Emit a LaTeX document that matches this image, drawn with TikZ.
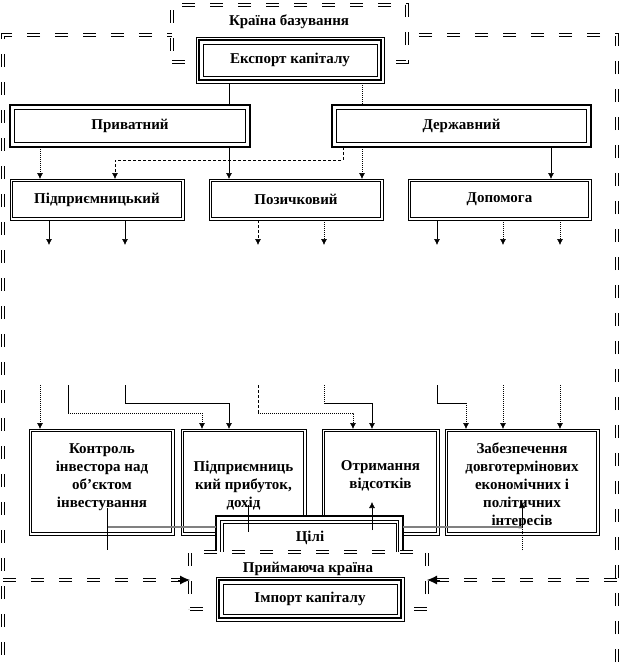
\documentclass[tikz,border=0pt]{standalone}
\usepackage{fontspec}
\setmainfont{Liberation Serif}
\usetikzlibrary{arrows.meta}
\begin{document}
\begin{tikzpicture}[x=1pt,y=-1pt,
  every node/.style={inner sep=0pt, outer sep=0pt},
  txt/.style={font=\fontsize{15}{18}\selectfont\bfseries, align=center},
  dframe/.style={draw, line width=1pt, double=white, double distance=1.8pt, dash pattern=on 13pt off 15pt},
  tripA/.style={rectangle, draw, fill=white, line width=0.7pt, txt,
    path picture={
      \draw[line width=2pt] ([shift={(3.2pt,-3.2pt)}]path picture bounding box.north west) rectangle ([shift={(-3.2pt,3.2pt)}]path picture bounding box.south east);
      \draw[line width=0.7pt] ([shift={(7pt,-7pt)}]path picture bounding box.north west) rectangle ([shift={(-7pt,7pt)}]path picture bounding box.south east);}},
  tripB/.style={rectangle, draw, fill=white, line width=2.6pt, txt,
    path picture={
      \draw[line width=0.7pt] ([shift={(4.5pt,-4.5pt)}]path picture bounding box.north west) rectangle ([shift={(-4.5pt,4.5pt)}]path picture bounding box.south east);
      \draw[line width=0.7pt] ([shift={(7pt,-7pt)}]path picture bounding box.north west) rectangle ([shift={(-7pt,7pt)}]path picture bounding box.south east);}},
  dblA/.style={rectangle, draw, fill=white, line width=2.6pt, txt,
    path picture={
      \draw[line width=0.7pt] ([shift={(4.5pt,-4.5pt)}]path picture bounding box.north west) rectangle ([shift={(-4.5pt,4.5pt)}]path picture bounding box.south east);}},
  dblB/.style={rectangle, draw, fill=white, line width=0.6pt, txt,
    path picture={
      \draw[line width=1.3pt] ([shift={(2.7pt,-2.7pt)}]path picture bounding box.north west) rectangle ([shift={(-2.7pt,2.7pt)}]path picture bounding box.south east);}},
  sl/.style={line width=0.6pt},
  dt/.style={line width=0.6pt, dash pattern=on 1pt off 1pt},
  ds/.style={line width=0.6pt, dash pattern=on 3pt off 2pt},
  gl/.style={line width=1.2pt, black!50},
  arr/.style={-{Latex[length=6pt,width=6pt]}},
  barr/.style={line width=0.8pt, -{Latex[length=10pt,width=9pt]}}
]
\useasboundingbox (0,0) rectangle (620,670);

% outer frame and home-country box
\node[dframe, minimum width=614pt, minimum height=685pt] (frame) at (310,377.5) {};
\node[dframe, fill=white, minimum width=235pt, minimum height=57pt] (krb) at (289.5,33.5) {};
\node[txt] (krbt) at (289,22) {Країна базування};

% boxes
\node[tripA, minimum width=188pt, minimum height=46pt] (exp) at (290,60) {Експорт капіталу};
\node[dblA, minimum width=240pt, minimum height=42pt] (priv) at (130,126) {Приватний};
\node[dblA, minimum width=259pt, minimum height=42pt] (derzh) at (461.5,126) {Державний};

\node[dblB, minimum width=174pt, minimum height=41pt] (pidpr) at (97,199.5) {Підприємницький};
\node[dblB, minimum width=174pt, minimum height=41pt] (pozych) at (296,199.5) {Позичковий};
\node[dblB, minimum width=183pt, minimum height=41pt] (dopom) at (499.5,199.5) {Допомога};

\node[dblB, minimum width=145pt, minimum height=106pt] (kontr) at (101.5,482) {};
\node[dblB, minimum width=125pt, minimum height=106pt] (prybut) at (243.5,482) {};
\node[dblB, minimum width=117pt, minimum height=106pt] (vidsot) at (380.5,482) {};
\node[dblB, minimum width=154pt, minimum height=106pt] (zabez) at (522,482) {};
\node[txt] (kontrt) at (102,477) {Контроль\\інвестора над\\об’єктом\\інвестування};
\node[txt] (prybutt) at (243.5,486) {Підприємниць\\кий прибуток,\\дохід};
\node[txt] (vidsott) at (380.5,476) {Отримання\\відсотків};
\node[txt] (zabezt) at (522,486) {Забезпечення\\довготермінових\\економічних і\\політичних\\інтересів};

% export -> private / state
\draw[sl] (exp.south -| 229,0) -- (priv.north -| 229,0);
\draw[dt] (exp.south -| 362,0) -- (derzh.north -| 362,0);

% private / state -> row 2
\draw[dt,arr] (priv.south -| 40,0) -- (pidpr.north -| 40,0);
\draw[sl,arr] (priv.south -| 229,0) -- (pozych.north -| 229,0);
\draw[ds,arr] (derzh.south -| 343,0) -- (343,160) -- (115,160) -- (pidpr.north -| 115,0);
\draw[dt,arr] (derzh.south -| 362,0) -- (pozych.north -| 362,0);
\draw[sl,arr] (derzh.south -| 551,0) -- (dopom.north -| 551,0);

% row 2 outgoing arrows
\coordinate (o1) at (49,245);
\coordinate (o2) at (125,245);
\coordinate (o3) at (258,245);
\coordinate (o4) at (324,245);
\coordinate (o5) at (437,245);
\coordinate (o6) at (503,245);
\coordinate (o7) at (560,245);
\draw[sl,arr] (pidpr.south -| o1) -- (o1);
\draw[sl,arr] (pidpr.south -| o2) -- (o2);
\draw[ds,arr] (pozych.south -| o3) -- (o3);
\draw[dt,arr] (pozych.south -| o4) -- (o4);
\draw[sl,arr] (dopom.south -| o5) -- (o5);
\draw[dt,arr] (dopom.south -| o6) -- (o6);
\draw[dt,arr] (dopom.south -| o7) -- (o7);

% incoming lines to goal boxes
\coordinate (i1) at (40,385);
\coordinate (i2) at (68,385);
\coordinate (i3) at (125,385);
\coordinate (i4) at (258,385);
\coordinate (i5) at (324,385);
\coordinate (i6) at (437,385);
\coordinate (i7) at (503,385);
\coordinate (i8) at (560,385);
\draw[dt,arr] (i1) -- (kontr.north -| i1);
\draw[sl] (i2) -- (68,413);
\draw[dt,arr] (68,413) -- (202,413) -- (prybut.north -| 202,0);
\draw[sl,arr] (i3) -- (125,403) -- (229,403) -- (prybut.north -| 229,0);
\draw[ds] (i4) -- (258,413);
\draw[dt,arr] (258,413) -- (353,413) -- (vidsot.north -| 353,0);
\draw[dt] (i5) -- (324,403);
\draw[sl,arr] (324,403) -- (372,403) -- (vidsot.north -| 372,0);
\draw[sl] (i6) -- (437,403) -- (466,403);
\draw[dt,arr] (466,403) -- (zabez.north -| 466,0);
\draw[dt,arr] (i7) -- (zabez.north -| i7);
\draw[dt,arr] (i8) -- (zabez.north -| i8);

% goals box
\node[tripB, minimum width=187pt, minimum height=46pt] (tsili) at (309.5,539) {};
\node[txt] (tsilit) at (310,538) {Цілі};
\draw[gl] (107,527) -- (tsili.west |- 0,527);
\draw[gl] (tsili.east |- 0,527) -- (522,527);
\draw[sl] (107,508) -- (107,550);
\draw[sl] (248,505) -- (248,532);
\draw[sl,arr] (372,530) -- (372,502);
\draw[sl,arr] (522,527) -- (522,502);
\draw[dt] (522,550) -- (522,527);

% host country
\node[dframe, fill=white, minimum width=237pt, minimum height=57pt] (prym) at (308.5,580.5) {};
\node[txt] (prymt) at (308,569) {Приймаюча країна};
\node[tripA, minimum width=188pt, minimum height=44pt] (imp) at (310,599) {Імпорт капіталу};

\draw[dframe] (frame.west |- 0,580) -- (181,580);
\draw[barr] (178,580) -- (prym.west |- 0,580);
\draw[dframe] (frame.east |- 0,580) -- (437,580);
\draw[barr] (440,580) -- (prym.east |- 0,580);
\end{tikzpicture}
\end{document}
